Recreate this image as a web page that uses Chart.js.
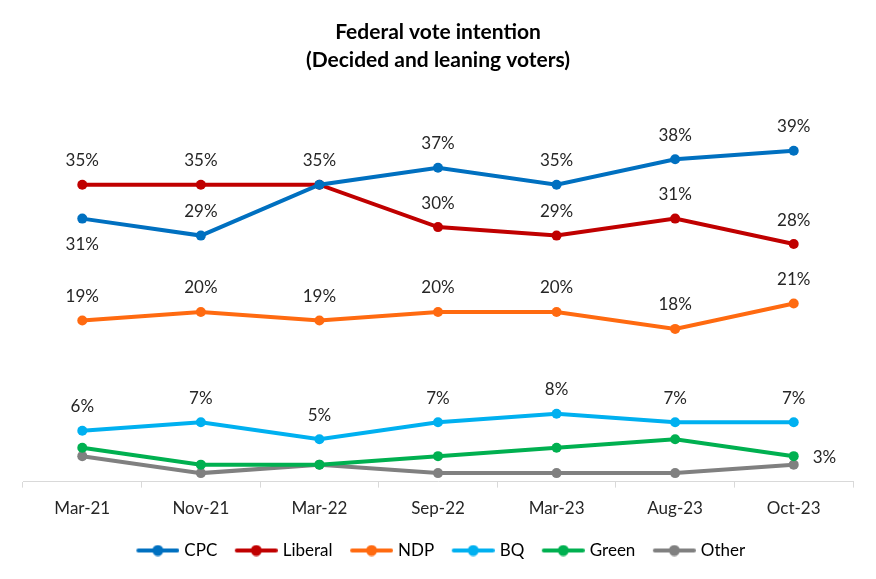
<!DOCTYPE html>
<html>
<head>
<meta charset="utf-8">
<script src="https://cdn.jsdelivr.net/npm/chart.js@4.4.0/dist/chart.umd.min.js"></script>
<style>
    html, body { margin: 0; padding: 0; background: #fff; }
    #wrap { width: 876px; height: 579px; }
</style>
</head>
<body>
<div id="wrap"><canvas id="vote-chart" width="876" height="579"></canvas></div>
<script>
const periods = ["Mar-21", "Nov-21", "Mar-22", "Sep-22", "Mar-23", "Aug-23", "Oct-23"];

const cpcValues = [31, 29, 35, 37, 35, 38, 39];
const liberalValues = [35, 35, 35, 30, 29, 31, 28];
const ndpValues = [19, 20, 19, 20, 20, 18, 21];
const bqValues = [6, 7, 5, 7, 8, 7, 7];
const greenValues = [4, 2, 2, 3, 4, 5, 3];
const otherValues = [3, 1, 2, 1, 1, 1, 2];

// where each value label goes ("" = no label)
const labelPlacement = {
    CPC: ["below", "above", "", "above", "above", "above", "above"],
    Liberal: ["above", "above", "above", "above", "above", "above", "above"],
    NDP: ["above", "above", "above", "above", "above", "above", "above"],
    BQ: ["above", "above", "above", "above", "above", "above", "above"],
    Green: ["", "", "", "", "", "", "right"],
    Other: ["", "", "", "", "", "", ""],
};

const seriesColors = {
    CPC: "#0070C0",
    Liberal: "#C00000",
    NDP: "#FF6A10",
    BQ: "#00B0F0",
    Green: "#00B050",
    Other: "#808080",
};

const fontFamily = "Lato, 'Open Sans', sans-serif";
const legendBoxWidth = 45;

function series(label, data) {
    return {
        label,
        data,
        borderColor: seriesColors[label],
        backgroundColor: seriesColors[label],
        borderWidth: 4,
        pointRadius: 5,
        pointHoverRadius: 5,
        pointBorderWidth: 0,
        tension: 0,
    };
}

// line-with-dot picture for legend entries, drawn flush right so it sits next to the text
function legendMarker(color) {
    const c = document.createElement("canvas");
    c.width = Math.round(legendBoxWidth + 7);
    c.height = 12;
    const ctx = c.getContext("2d");
    const right = c.width;
    const left = right - 43;
    ctx.strokeStyle = color;
    ctx.lineWidth = 4;
    ctx.lineCap = "round";
    ctx.beginPath();
    ctx.moveTo(left + 2, 6);
    ctx.lineTo(right - 2, 6);
    ctx.stroke();
    ctx.fillStyle = color;
    ctx.beginPath();
    ctx.arc(left + 21.5, 6, 5.5, 0, Math.PI * 2);
    ctx.fill();
    return c;
}

const valueLabels = {
    id: "valueLabels",
    afterDatasetsDraw(chart) {
        const ctx = chart.ctx;
        ctx.save();
        ctx.font = `17px ${fontFamily}`;
        ctx.fillStyle = "#262626";
        ctx.textBaseline = "middle";
        chart.data.datasets.forEach((dataset, di) => {
            const places = labelPlacement[dataset.label];
            chart.getDatasetMeta(di).data.forEach((point, i) => {
                const where = places[i];
                if (!where) {
                    return;
                }
                const text = `${dataset.data[i]}%`;
                if (where === "right") {
                    ctx.textAlign = "left";
                    ctx.fillText(text, point.x + 19, point.y + 1);
                } else {
                    ctx.textAlign = "center";
                    ctx.fillText(text, point.x, where === "above" ? point.y - 24 : point.y + 26);
                }
            });
        });
        ctx.restore();
    },
};

new Chart(document.getElementById("vote-chart"), {
    type: "line",
    data: {
        labels: periods,
        datasets: [
            series("CPC", cpcValues),
            series("Liberal", liberalValues),
            series("NDP", ndpValues),
            series("BQ", bqValues),
            series("Green", greenValues),
            series("Other", otherValues),
        ],
    },
    options: {
        responsive: false,
        animation: false,
        events: [],
        layout: { padding: { left: 23, right: 23, top: 0, bottom: 10 } },
        plugins: {
            title: {
                display: true,
                text: ["Federal vote intention", "(Decided and leaning voters)"],
                color: "#000",
                font: { family: fontFamily, size: 21, weight: "bold", lineHeight: 1.33 },
                padding: { top: 18, bottom: 26 },
            },
            legend: {
                position: "bottom",
                labels: {
                    color: "#000",
                    font: { family: fontFamily, size: 17 },
                    usePointStyle: true,
                    pointStyleWidth: legendBoxWidth,
                    boxHeight: 12,
                    padding: 12,
                    generateLabels(chart) {
                        return chart.data.datasets.map((ds, i) => ({
                            text: ds.label,
                            pointStyle: legendMarker(ds.borderColor),
                            fillStyle: ds.borderColor,
                            strokeStyle: ds.borderColor,
                            lineWidth: 0,
                            hidden: false,
                            datasetIndex: i,
                        }));
                    },
                },
            },
            tooltip: { enabled: false },
        },
        scales: {
            x: {
                offset: true,
                border: { display: true, color: "#D9D9D9", width: 1 },
                grid: {
                    offset: true,
                    drawOnChartArea: false,
                    drawTicks: true,
                    tickLength: 6,
                    color: "#D9D9D9",
                },
                ticks: {
                    color: "#262626",
                    font: { family: fontFamily, size: 17 },
                    padding: 11,
                },
            },
            y: {
                display: false,
                min: 0,
                max: 45,
            },
        },
    },
    plugins: [valueLabels],
});
</script>
</body>
</html>
